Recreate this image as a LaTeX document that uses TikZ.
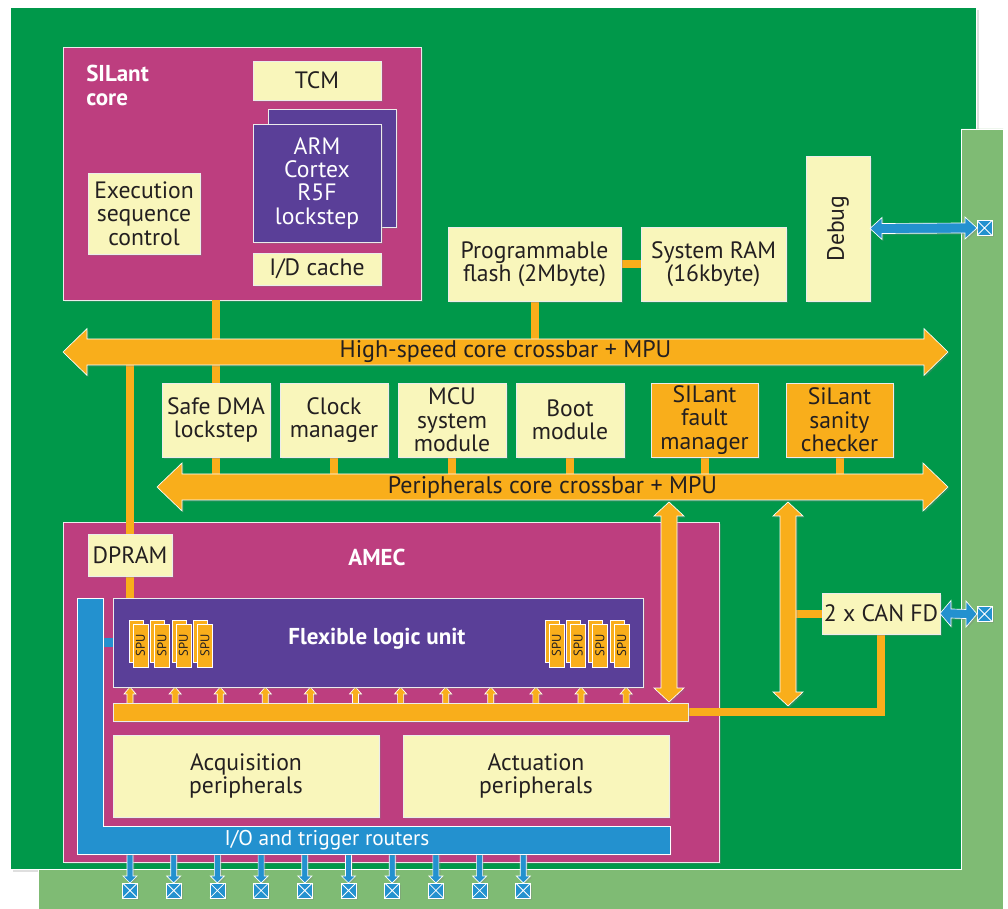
\documentclass[tikz,border=0pt]{standalone}
\usepackage{fontspec}
\setmainfont{PT Sans}
\usetikzlibrary{calc,shadows}
\pgfdeclarelayer{back}
\pgfdeclarelayer{mid}
\pgfsetlayers{back,mid,main}
\definecolor{dgreen}{HTML}{00984A}
\definecolor{lgreen}{HTML}{7FBB74}
\definecolor{mag}{HTML}{BD3E7F}
\definecolor{purp}{HTML}{5A3F98}
\definecolor{cream}{HTML}{F9F6BB}
\definecolor{orng}{HTML}{F9AE1B}
\definecolor{blu}{HTML}{2391CF}
\definecolor{ink}{HTML}{231F20}
\newcommand\rbox[7]{\node[#6, minimum width={(#4-#2)*0.75pt}, minimum height={(#5-#3)*0.75pt}] (#1) at ({(#2+#4)/2},{(#3+#5)/2}) {#7};}
\tikzset{
 shd/.style={drop shadow={shadow xshift=1.2pt,shadow yshift=-1.2pt,opacity=0.3}},
 blk/.style={rectangle, inner sep=0pt, outer sep=0pt, draw=white!85!gray, line width=0.5pt, shd},
 txt/.style={text=ink, font=\fontsize{17.75}{17.5}\selectfont, align=center, inner sep=0pt},
 cream/.style={blk, fill=cream, txt},
 obox/.style={blk, fill=orng, txt},
 pbox/.style={blk, fill=purp, txt, text=white},
 mbox/.style={blk, fill=mag},
 spu/.style={rectangle, inner sep=0pt, outer sep=0pt, fill=orng, draw=white, line width=0.4pt, text=ink, font=\fontsize{9.5}{10}\selectfont},
 wlbl/.style={text=white, font=\bfseries\fontsize{17.25}{17.5}\selectfont, inner sep=0pt, align=left},
 xlbl/.style={inner sep=0pt, text=ink, font=\fontsize{18}{20}\selectfont},
 xbox/.style={rectangle, inner sep=0pt, outer sep=0pt, fill=blu, draw=white, line width=0.5pt, minimum width=11.25pt, minimum height=11.25pt, shd,
   path picture={\draw[white, line width=0.6pt] (path picture bounding box.south west) -- (path picture bounding box.north east) (path picture bounding box.north west) -- (path picture bounding box.south east);}},
 stub/.style={draw=orng, line width=6pt},
 bstub/.style={draw=blu, line width=6.75pt},
 obar/.style={fill=orng, draw=white, line width=0.5pt, shd},
 bbar/.style={fill=blu, draw=white, line width=0.5pt, shd},
 fath/.style n args={3}{to path={let \p1=(\tikztostart), \p2=(\tikztotarget) in (\x1,\y1) -- (\x1+#3,\y1+#2) -- (\x1+#3,\y1+#1) -- (\x2-#3,\y2+#1) -- (\x2-#3,\y2+#2) -- (\x2,\y2) -- (\x2-#3,\y2-#2) -- (\x2-#3,\y2-#1) -- (\x1+#3,\y1-#1) -- (\x1+#3,\y1-#2) -- cycle}},
 fatv/.style n args={3}{to path={let \p1=(\tikztostart), \p2=(\tikztotarget) in (\x1,\y1) -- (\x1+#2,\y1-#3) -- (\x1+#1,\y1-#3) -- (\x1+#1,\y2+#3) -- (\x1+#2,\y2+#3) -- (\x1,\y2) -- (\x1-#2,\y2+#3) -- (\x1-#1,\y2+#3) -- (\x1-#1,\y1-#3) -- (\x1-#2,\y1-#3) -- cycle}},
 fatup/.style n args={3}{to path={let \p1=(\tikztostart), \p2=(\tikztotarget) in (\x1-#1,\y1) -- (\x1-#1,\y2-#3) -- (\x1-#2,\y2-#3) -- (\x1,\y2) -- (\x1+#2,\y2-#3) -- (\x1+#1,\y2-#3) -- (\x1+#1,\y1) -- cycle}},
 fatdown/.style n args={3}{to path={let \p1=(\tikztostart), \p2=(\tikztotarget) in (\x1-#1,\y1) -- (\x1-#1,\y2+#3) -- (\x1-#2,\y2+#3) -- (\x1,\y2) -- (\x1+#2,\y2+#3) -- (\x1+#1,\y2+#3) -- (\x1+#1,\y1) -- cycle}},
}
\begin{document}
\begin{tikzpicture}[x=0.75pt,y=-0.75pt]
\useasboundingbox (0,0) rectangle (1008,909);
\begin{pgfonlayer}{back}
 \fill[white] (0,0) rectangle (1008,909);
 \filldraw[fill=dgreen, draw=white, line width=0.5pt, drop shadow={shadow xshift=2pt,shadow yshift=-2pt,opacity=0.25}] (10,7) rectangle (976,869);
 \filldraw[fill=lgreen, draw=white, line width=0.6pt] (961,129) -- (1003,129) -- (1003,912) -- (38,912) -- (38,869) -- (961,869) -- cycle;
 \rbox{core}{63}{47}{421}{300}{mbox}{}
 \rbox{amec}{63}{522}{719}{862}{mbox}{}
\end{pgfonlayer}

% SILant core contents
\node[wlbl, anchor=north west] (corelbl) at (86,65) {SILant\\core};
\rbox{tcm}{253}{61}{381}{100}{cream}{TCM}
\rbox{armb}{268}{109}{396}{227}{pbox}{}
\rbox{arm}{253}{124}{381}{242}{pbox}{ARM\\Cortex\\R5F\\lockstep}
\rbox{idc}{253}{253}{381}{285}{cream}{I/D cache}
\rbox{exec}{88}{173}{200}{254}{cream}{Execution\\sequence\\control}

% memories and debug
\rbox{flash}{448}{227}{621}{301}{cream}{Programmable\\flash (2Mbyte)}
\rbox{ram}{641}{227}{786}{301}{cream}{System RAM\\(16kbyte)}
\rbox{debug}{806}{156}{870}{301}{cream}{}
\node[txt, rotate=90] (debugtxt) at (debug.center) {Debug};

% high-speed crossbar
\coordinate (hsl) at (63,352);
\coordinate (hsr) at (948,352);
\draw[obar, fath={9.75pt}{17.5pt}{18pt}] (hsl) to (hsr);
\node[xlbl, minimum width=627.75pt, minimum height=19.5pt] (hs) at (505.5,352) {High-speed core crossbar + MPU};

% peripheral row
\rbox{safe}{162}{383}{270}{457}{cream}{Safe DMA\\lockstep}
\rbox{clock}{280}{383}{388}{457}{cream}{Clock\\manager}
\rbox{mcu}{398}{383}{506}{457}{cream}{MCU\\system\\module}
\rbox{boot}{516}{383}{624}{457}{cream}{Boot\\module}
\rbox{fault}{651}{383}{758}{457}{obox}{SILant\\fault\\manager}
\rbox{sanity}{786}{383}{893}{457}{obox}{SiLant\\sanity\\checker}

% peripherals crossbar
\coordinate (pcl) at (157,487);
\coordinate (pcr) at (948,487);
\draw[obar, fath={9.75pt}{18pt}{18.75pt}] (pcl) to (pcr);
\node[xlbl, minimum width=555.75pt, minimum height=19.5pt] (pc) at (552.5,487) {Peripherals core crossbar + MPU};

% AMEC contents
\node[wlbl] (ameclbl) at (377,557) {AMEC};
\rbox{dpram}{88}{534}{172}{576}{cream}{DPRAM}
\rbox{flu}{113}{598}{643}{687}{pbox}{}
\node[wlbl] (flulbl) at (377,639) {Flexible logic unit};
\foreach \i in {0,...,3} {
  \pgfmathsetmacro\xa{129+21.5*\i}
  \node[spu, minimum width=10.5pt, minimum height=31.5pt] (spulb\i) at ({\xa+7},641) {};
  \node[spu, rotate=90, minimum width=32.25pt, minimum height=11.25pt] (spulf\i) at ({\xa+11.5},645.5) {SPU};
  \pgfmathsetmacro\xb{545+21.7*\i}
  \node[spu, minimum width=10.5pt, minimum height=31.5pt] (spurb\i) at ({\xb+7},641) {};
  \node[spu, rotate=90, minimum width=32.25pt, minimum height=11.25pt] (spurf\i) at ({\xb+11.5},645.5) {SPU};
}
\rbox{bus}{113}{703}{688}{721}{blk, fill=orng}{}
\rbox{acq}{113}{735}{379}{817}{cream}{Acquisition\\peripherals}
\rbox{act}{403}{735}{669}{817}{cream}{Actuation\\peripherals}
\filldraw[bbar] (77,598) -- (103,598) -- (103,826) -- (670,826) -- (670,854) -- (77,854) -- cycle;
\node[inner sep=0pt, text=white, font=\fontsize{16}{18}\selectfont] (rtl) at (327,840) {I/O and trigger routers};
\coordinate (rv) at (103,640);
\coordinate (rb) at (0,854);

% CAN
\rbox{can}{822}{593}{940}{634}{cream}{2 x CAN FD}

% orange vertical double arrows
\coordinate (a1t) at (669,502);
\coordinate (a1b) at (669,702);
\coordinate (a2t) at (788,502);
\coordinate (a2b) at (788,706);
\draw[obar, fatv={6pt}{11.25pt}{10.5pt}] (a1t) to (a1b);
\draw[obar, fatv={6pt}{11.25pt}{10.5pt}] (a2t) to (a2b);

% pins
\node[xbox] (xd) at (984.5,228) {};
\draw[bbar, fath={3.75pt}{8.25pt}{9pt}] (debug.east) to (xd.west);
\node[xbox] (xc) at (984.5,614) {};
\draw[bbar, fath={3.4pt}{9.75pt}{8.25pt}] (can.east) to (xc.west);
\foreach \i in {0,...,9} {
  \pgfmathsetmacro\xx{130+43.7*\i}
  \node[xbox] (xb\i) at (\xx,890.5) {};
}

\begin{pgfonlayer}{mid}
 \draw[stub] (safe.north) -- (safe.north |- core.south);
 \draw[stub] (flash.south) -- (flash.south |- hs.north);
 \draw[stub] (flash.east) -- (ram.west);
 \draw[stub] (dpram.north) -- (dpram.north |- hs.south);
 \draw[stub] (dpram.south) -- (dpram.south |- flu.north);
 \foreach \n in {safe,clock,mcu,boot,fault,sanity} \draw[stub] (\n.south) -- (\n.south |- pc.north);
 \draw[stub] (can.west) -- (can.west -| a2t);
 \draw[stub] (can.south) |- (bus.east);
 \draw[bstub] (flu.west) -- (flu.west -| rv);
 \foreach \i in {0,...,11} {
   \pgfmathsetmacro\ux{130+45.1*\i}
   \coordinate (u\i) at (\ux,0);
   \draw[obar, fatup={2.25pt}{4.5pt}{5.25pt}] (bus.center -| u\i) to (flu.south -| u\i);
 }
 \foreach \i in {0,...,9} {
   \draw[bbar, fatdown={2.25pt}{5.25pt}{5.25pt}] (xb\i.north |- rb) to (xb\i.north);
 }
\end{pgfonlayer}
\end{tikzpicture}
\end{document}
